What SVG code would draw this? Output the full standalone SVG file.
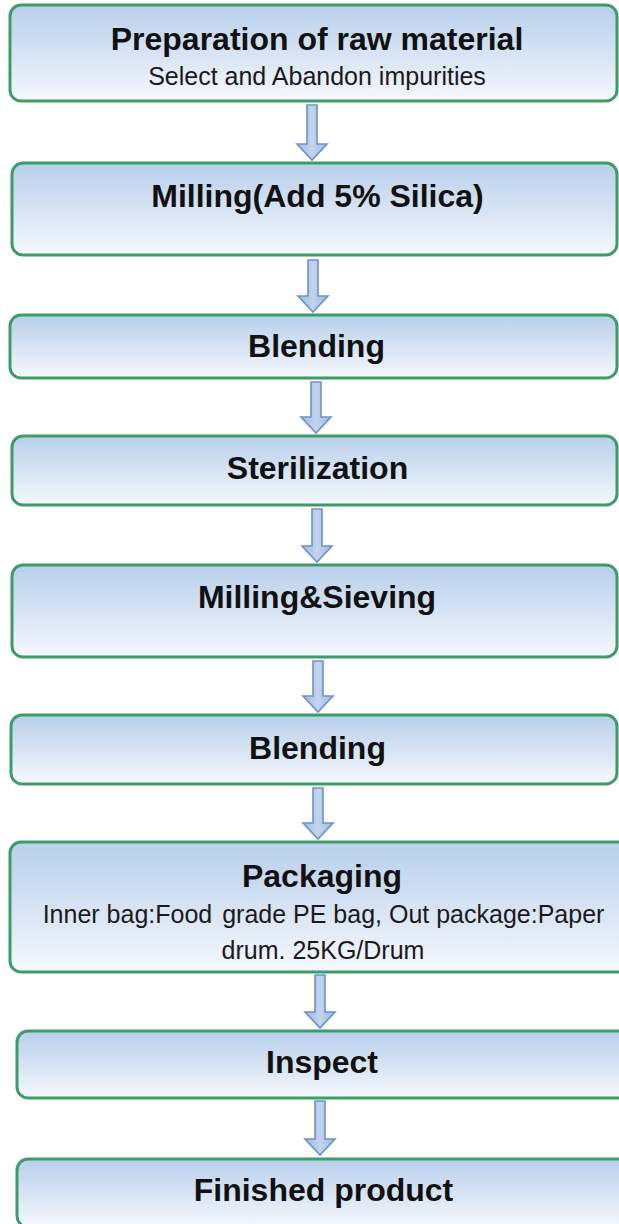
<svg xmlns="http://www.w3.org/2000/svg" width="619" height="1224" viewBox="0 0 619 1224">
<style>
.box{fill:url(#bg);stroke:#3f9b68;stroke-width:3}
.t{font-family:"Liberation Sans",Arial,sans-serif;font-weight:bold;font-size:32px;fill:#111;text-anchor:middle}
.s{font-family:"Liberation Sans",Arial,sans-serif;font-size:25px;fill:#1a1a1a;text-anchor:middle}
.arr{fill:url(#ag);stroke:#6f93c4;stroke-width:1.6;stroke-linejoin:miter}
</style>
<defs>
<linearGradient id="bg" x1="0" y1="0" x2="0" y2="1">
<stop offset="0" stop-color="#b8cfeb"/>
<stop offset="1" stop-color="#f5f8fd"/>
</linearGradient>
<linearGradient id="ag" x1="0" y1="0" x2="1" y2="0">
<stop offset="0" stop-color="#9db9df"/>
<stop offset="0.5" stop-color="#c3d5ee"/>
<stop offset="1" stop-color="#9db9df"/>
</linearGradient>
</defs>
<g id="connectors">
<path class="arr" d="M307,105 H317 V144 H327 L312,160 L297,144 H307 Z"/>
<path class="arr" d="M308,260 H318 V296 H328 L313,312 L298,296 H308 Z"/>
<path class="arr" d="M311,382 H321 V417 H331 L316,433 L301,417 H311 Z"/>
<path class="arr" d="M312,509 H322 V546 H332 L317,562 L302,546 H312 Z"/>
<path class="arr" d="M313,661 H323 V696 H333 L318,712 L303,696 H313 Z"/>
<path class="arr" d="M313,788 H323 V823 H333 L318,839 L303,823 H313 Z"/>
<path class="arr" d="M315,975 H325 V1012 H335 L320,1028 L305,1012 H315 Z"/>
<path class="arr" d="M315,1101 H325 V1139 H335 L320,1155 L305,1139 H315 Z"/>
</g>
<g id="n1">
<rect class="box" x="10" y="5" width="607" height="96" rx="11"/>
<text class="t" x="317" y="50">Preparation of raw material</text>
<text class="s" x="317" y="85">Select and Abandon impurities</text>
</g>
<g id="n2">
<rect class="box" x="12" y="163" width="605" height="92" rx="11"/>
<text class="t" x="317.5" y="207">Milling(Add 5% Silica)</text>
</g>
<g id="n3">
<rect class="box" x="10" y="315" width="607" height="63" rx="11"/>
<text class="t" x="316.5" y="357">Blending</text>
</g>
<g id="n4">
<rect class="box" x="12" y="436" width="605" height="69" rx="11"/>
<text class="t" x="317.5" y="479">Sterilization</text>
</g>
<g id="n5">
<rect class="box" x="12" y="565" width="605" height="92" rx="11"/>
<text class="t" x="317" y="608">Milling&amp;Sieving</text>
</g>
<g id="n6">
<rect class="box" x="11" y="715" width="606" height="69" rx="11"/>
<text class="t" x="317.5" y="759">Blending</text>
</g>
<g id="n7">
<rect class="box" x="10" y="842" width="620" height="130" rx="11"/>
<text class="t" x="322" y="887">Packaging</text>
<text class="s" x="323.5" y="923">Inner bag:Food <tspan dx="3">grade PE bag, Out package:Paper</tspan></text>
<text class="s" x="323" y="959">drum. 25KG/Drum</text>
</g>
<g id="n8">
<rect class="box" x="17" y="1031" width="613" height="67" rx="11"/>
<text class="t" x="322" y="1073">Inspect</text>
</g>
<g id="n9">
<rect class="box" x="17" y="1159" width="613" height="68" rx="11"/>
<text class="t" x="323.5" y="1201">Finished product</text>
</g>
</svg>
